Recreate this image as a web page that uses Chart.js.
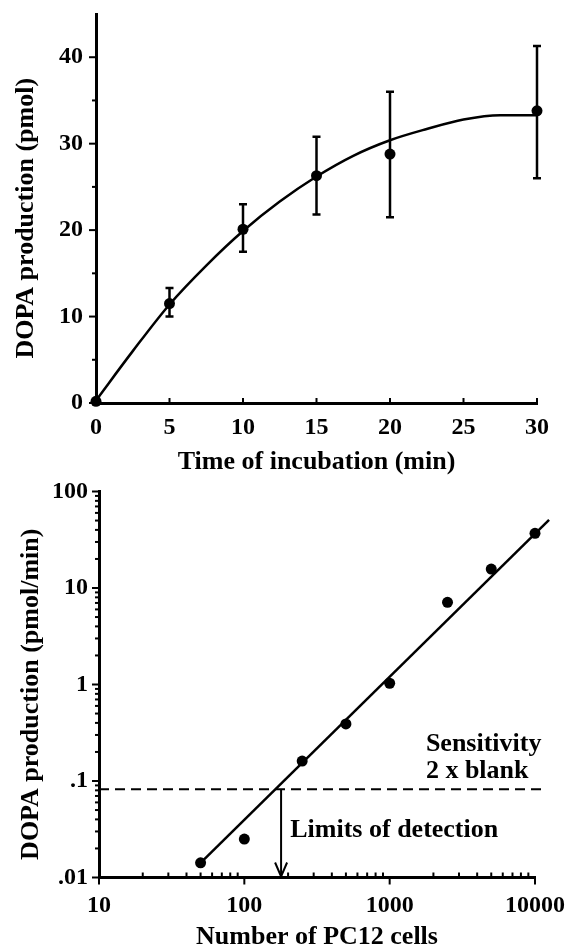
<!DOCTYPE html>
<html>
<head>
<meta charset="utf-8">
<script src="https://cdn.jsdelivr.net/npm/chart.js@4.4.0/dist/chart.umd.min.js"></script>
<style>
  body { margin: 0; background: #fff; overflow: hidden; }
  .panel { position: absolute; left: 0; }
</style>
</head>
<body>
<canvas id="timeChart" class="panel" width="565" height="478" style="top:0"></canvas>
<canvas id="cellChart" class="panel" width="565" height="475" style="top:475px"></canvas>
<script>
// top panel: DOPA vs incubation time
const timePoints = [0, 5, 10, 15, 20, 30];
const dopaMean = [0.2, 11.5, 20.1, 26.3, 28.8, 33.8];
const dopaLow = [0.2, 10.0, 17.5, 21.8, 21.5, 26.0];
const dopaHigh = [0.2, 13.3, 23.0, 30.8, 36.0, 41.3];
const fitTime = [0, 2.5, 5, 7.5, 10, 12.5, 15, 17.5, 20, 22.5, 25, 27.5, 30];
const fitDopa = [0.3, 6.0, 11.4, 15.9, 19.9, 23.3, 26.2, 28.6, 30.4, 31.7, 32.8, 33.3, 33.3];
const timeTicks = [0, 5, 10, 15, 20, 25, 30];
const dopaTicks = [0, 10, 20, 30, 40];
const dopaMinor = [5, 15, 25, 35];

// bottom panel: DOPA rate vs number of cells (log-log)
const cellCounts = [50, 100, 250, 500, 1000, 2500, 5000, 10000];
const dopaRate = [0.0142, 0.025, 0.161, 0.39, 1.03, 7.1, 15.7, 36.9];
const fitCells = [50, 12500];
const fitRate = [0.0142, 50.7];
const blankLevel = 0.082;
const detectionLimit = 179;
const cellTicks = [10, 100, 1000, 10000];
const cellTickLabels = ['10', '100', '1000', '10000'];
const rateTicks = [0.01, 0.1, 1, 10, 100];
const rateTickLabels = ['.01', '.1', '1', '10', '100'];

const serif = "'Liberation Serif', 'Times New Roman', serif";
Chart.defaults.font.family = serif;
Chart.defaults.font.weight = 'bold';
Chart.defaults.color = '#000';

const minorLog = (lo, hi) => {
  const out = [];
  for (let d = lo; d < hi * 0.99; d *= 10)
    for (let k = 2; k <= 9; k++) out.push(d * k);
  return out;
};
const pickLabel = (ticks, labels) => v => {
  const i = ticks.findIndex(t => Math.abs(t - v) / t < 1e-6);
  return i >= 0 ? labels[i] : '';
};
const xy = (xs, ys) => xs.map((x, i) => ({ x: x, y: ys[i] }));

// tick marks drawn by hand so minor ones can be shorter
const axisMarks = {
  id: 'axisMarks',
  afterDatasetsDraw(chart, args, opts) {
    const ctx = chart.ctx;
    ctx.save();
    ctx.strokeStyle = '#000';
    ctx.lineWidth = 2;
    for (const m of opts.marks || []) {
      const s = chart.scales[m.scale];
      for (const v of m.values) {
        const p = s.getPixelForValue(v);
        ctx.beginPath();
        if (s.isHorizontal()) { ctx.moveTo(p, s.top); ctx.lineTo(p, s.top + m.len); }
        else { ctx.moveTo(s.right, p); ctx.lineTo(s.right - m.len, p); }
        ctx.stroke();
      }
    }
    ctx.restore();
  }
};

const errorBars = {
  id: 'errorBars',
  afterDatasetsDraw(chart, args, opts) {
    if (!opts.x) return;
    const xs = chart.scales.x, ys = chart.scales.y, ctx = chart.ctx;
    ctx.save();
    ctx.strokeStyle = '#000';
    ctx.lineWidth = 2.5;
    opts.x.forEach((t, i) => {
      if (opts.high[i] === opts.low[i]) return;
      const px = xs.getPixelForValue(t);
      const y1 = ys.getPixelForValue(opts.low[i]);
      const y2 = ys.getPixelForValue(opts.high[i]);
      ctx.beginPath();
      ctx.moveTo(px, y1); ctx.lineTo(px, y2);
      ctx.moveTo(px - opts.cap, y1); ctx.lineTo(px + opts.cap, y1);
      ctx.moveTo(px - opts.cap, y2); ctx.lineTo(px + opts.cap, y2);
      ctx.stroke();
    });
    ctx.restore();
  }
};

const notes = {
  id: 'notes',
  afterDatasetsDraw(chart, args, opts) {
    if (!opts.labels) return;
    const xs = chart.scales.x, ys = chart.scales.y, ctx = chart.ctx;
    ctx.save();
    const ax = xs.getPixelForValue(opts.arrowX), ay = ys.getPixelForValue(opts.arrowTo);
    ctx.strokeStyle = '#000';
    ctx.lineWidth = 2;
    ctx.beginPath();
    ctx.moveTo(ax - 6, ay - 15); ctx.lineTo(ax, ay - 1); ctx.lineTo(ax + 6, ay - 15);
    ctx.stroke();
    ctx.font = 'bold 26px ' + serif;
    ctx.fillStyle = '#000';
    ctx.textBaseline = 'middle';
    ctx.textAlign = 'left';
    opts.labels.forEach(l => ctx.fillText(l.text, xs.getPixelForValue(l.x), ys.getPixelForValue(l.y)));
    ctx.restore();
  }
};

const tickFont = { size: 24, weight: 'bold' };
const titleFont = { size: 26, weight: 'bold' };
const axisBorder = { display: true, width: 3, color: '#000' };
const noGrid = { display: false, drawTicks: false };

// keep the plot box where the figure has it, ignoring label overhang
const fixWidth = w => s => { s.width = w; s.paddingTop = 0; s.paddingBottom = 0; };
const fixHeight = h => s => { s.height = h; s.paddingLeft = 0; s.paddingRight = 0; };

new Chart(document.getElementById('timeChart'), {
  type: 'line',
  data: {
    datasets: [
      {
        data: xy(timePoints, dopaMean),
        showLine: false,
        pointRadius: 5.5,
        pointBackgroundColor: '#000',
        pointBorderWidth: 0,
        clip: false
      },
      {
        data: xy(fitTime, fitDopa),
        borderColor: '#000',
        borderWidth: 2.5,
        pointRadius: 0,
        cubicInterpolationMode: 'monotone',
        fill: false
      }
    ]
  },
  options: {
    responsive: false,
    animation: false,
    layout: { padding: { top: 14, right: 28, left: 0, bottom: 0 } },
    plugins: {
      legend: { display: false },
      tooltip: { enabled: false },
      errorBars: { x: timePoints, low: dopaLow, high: dopaHigh, cap: 4 },
      axisMarks: {
        marks: [
          { scale: 'y', values: dopaTicks, len: 7 },
          { scale: 'y', values: dopaMinor, len: 4 },
          { scale: 'x', values: timeTicks, len: -5 }
        ]
      }
    },
    scales: {
      x: {
        type: 'linear', min: 0, max: 30,
        afterBuildTicks: s => { s.ticks = timeTicks.map(v => ({ value: v })); },
        afterFit: fixHeight(75),
        grid: noGrid,
        border: axisBorder,
        ticks: { padding: 10, font: tickFont, maxRotation: 0 },
        title: { display: true, text: 'Time of incubation (min)', font: titleFont, padding: { top: 0, bottom: 0 } }
      },
      y: {
        type: 'linear', min: 0, max: 45,
        afterBuildTicks: s => { s.ticks = dopaTicks.map(v => ({ value: v })); },
        afterFit: fixWidth(96),
        grid: noGrid,
        border: axisBorder,
        ticks: { padding: 13, font: tickFont },
        title: { display: true, text: 'DOPA production (pmol)   ', font: titleFont, padding: { top: 11, bottom: 0 } }
      }
    }
  },
  plugins: [axisMarks, errorBars]
});

new Chart(document.getElementById('cellChart'), {
  type: 'line',
  data: {
    datasets: [
      {
        data: xy(cellCounts, dopaRate),
        showLine: false,
        pointRadius: 5.5,
        pointBackgroundColor: '#000',
        pointBorderWidth: 0,
        clip: false
      },
      {
        data: xy(fitCells, fitRate),
        borderColor: '#000',
        borderWidth: 2.5,
        pointRadius: 0,
        clip: false
      },
      {
        data: [{ x: 10, y: blankLevel }, { x: 12000, y: blankLevel }],
        borderColor: '#000',
        borderWidth: 2,
        borderDash: [10, 6],
        pointRadius: 0,
        clip: false
      },
      {
        data: [{ x: detectionLimit, y: blankLevel }, { x: detectionLimit, y: 0.01 }],
        borderColor: '#000',
        borderWidth: 2,
        pointRadius: 0
      }
    ]
  },
  options: {
    responsive: false,
    animation: false,
    layout: { padding: { top: 16.5, right: 30, left: 0, bottom: 0 } },
    plugins: {
      legend: { display: false },
      tooltip: { enabled: false },
      axisMarks: {
        marks: [
          { scale: 'y', values: rateTicks, len: 7 },
          { scale: 'y', values: minorLog(0.01, 100), len: 4 },
          { scale: 'x', values: cellTicks, len: 7 },
          { scale: 'x', values: minorLog(10, 10000), len: -5 }
        ]
      },
      notes: {
        arrowX: detectionLimit,
        arrowTo: 0.01,
        labels: [
          { text: 'Sensitivity', x: 1775, y: 0.239 },
          { text: '2 x blank', x: 1775, y: 0.127 },
          { text: 'Limits of detection', x: 207, y: 0.0307 }
        ]
      }
    },
    scales: {
      x: {
        type: 'logarithmic', min: 10, max: 10000,
        afterBuildTicks: s => { s.ticks = cellTicks.map(v => ({ value: v })); },
        afterFit: fixHeight(72.5),
        grid: noGrid,
        border: axisBorder,
        ticks: { padding: 14, font: tickFont, maxRotation: 0, autoSkip: false, callback: pickLabel(cellTicks, cellTickLabels) },
        title: { display: true, text: 'Number of PC12 cells', font: titleFont, padding: { top: 0, bottom: -3 } }
      },
      y: {
        type: 'logarithmic', min: 0.01, max: 100,
        afterBuildTicks: s => { s.ticks = rateTicks.map(v => ({ value: v })); },
        afterFit: fixWidth(99),
        grid: noGrid,
        border: axisBorder,
        ticks: { padding: 11, font: tickFont, autoSkip: false, callback: pickLabel(rateTicks, rateTickLabels) },
        title: { display: true, text: 'DOPA production (pmol/min)   ', font: titleFont, padding: { top: 16, bottom: 0 } }
      }
    }
  },
  plugins: [axisMarks, notes]
});
</script>
</body>
</html>
